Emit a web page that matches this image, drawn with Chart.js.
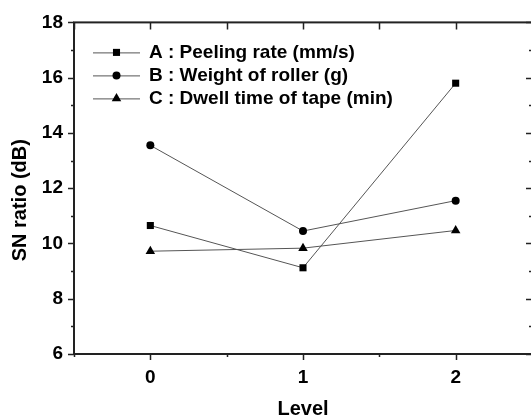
<!DOCTYPE html>
<html>
<head>
<meta charset="utf-8">
<script src="https://cdn.jsdelivr.net/npm/chart.js@4.4.1/dist/chart.umd.min.js"></script>
<style>
    html, body { margin: 0; padding: 0; background: #fff; overflow: hidden; }
    #wrap { width: 540px; height: 420px; }
</style>
</head>
<body>
<div id="wrap"><canvas id="chart" width="540" height="420" style="width:540px;height:420px"></canvas></div>
<script>
// values
const levels = [0, 1, 2];
const peelingRate = [10.65, 9.12, 15.8];
const rollerWeight = [13.55, 10.45, 11.55];
const dwellTime = [9.72, 9.83, 10.47];
const seriesNames = ['A : Peeling rate (mm/s)', 'B : Weight of roller (g)', 'C : Dwell time of tape (min)'];
const xTicks = [0, 1, 2];
const yTicks = [6, 8, 10, 12, 14, 16, 18];
const xTitle = 'Level';
const yTitle = 'SN ratio (dB)';

const fontFamily = '"Liberation Sans", Arial, Helvetica, sans-serif';

function toPoints(values) {
    return levels.map((lv, i) => ({ x: lv, y: values[i] }));
}

function makeDataset(label, values, style, radius) {
    return {
        label: label,
        data: toPoints(values),
        borderColor: '#555',
        borderWidth: 1,
        pointStyle: style,
        pointRadius: radius,
        pointBackgroundColor: '#000',
        pointBorderColor: '#000',
        pointBorderWidth: 0,
        tension: 0,
        clip: false
    };
}

// minor ticks sit half way between the labelled ones
function withMinor(ticks) {
    let out = [];
    let step = ticks[1] - ticks[0];
    out.push(ticks[0] - step / 2);
    ticks.forEach((t, i) => {
        out.push(t);
        out.push(t + step / 2);
    });
    return out;
}

// box round the plot, ticks on all four sides (like Origin draws it)
const framePlugin = {
    id: 'frame',
    afterDraw(chart) {
        const ctx = chart.ctx;
        const a = chart.chartArea;
        const xs = chart.scales.x;
        const ys = chart.scales.y;
        ctx.save();
        ctx.strokeStyle = '#222';
        ctx.lineWidth = 1.5;

        ctx.beginPath();
        withMinor(xTicks).forEach((v) => {
            if (v < xs.min || v > xs.max) return;
            let px = Math.round(xs.getPixelForValue(v)) + 0.5;
            let major = xTicks.includes(v);
            // bottom, outward
            ctx.moveTo(px, a.bottom);
            ctx.lineTo(px, a.bottom + (major ? 6 : 3));
            // top, inward
            ctx.moveTo(px, a.top);
            ctx.lineTo(px, a.top + 7);
        });
        for (let v = ys.min; v <= ys.max; v += 1) {
            let py = Math.round(ys.getPixelForValue(v)) + 0.5;
            let major = yTicks.includes(v);
            ctx.moveTo(a.left, py);
            ctx.lineTo(a.left - (major ? 6 : 3), py);
            ctx.moveTo(a.right, py);
            ctx.lineTo(a.right - (major ? 6 : 3), py);
        }
        ctx.stroke();

        ctx.lineWidth = 2;
        ctx.strokeRect(a.left, a.top, a.right - a.left, a.bottom - a.top);

        // y axis title, a bit below the middle as in the original
        ctx.fillStyle = '#000';
        ctx.font = 'bold 20px ' + fontFamily;
        ctx.textAlign = 'center';
        ctx.textBaseline = 'middle';
        ctx.translate(20, (a.top + a.bottom) / 2 + 12);
        ctx.rotate(-Math.PI / 2);
        ctx.fillText(yTitle, 0, 0);
        ctx.restore();
    }
};

// legend with a short line through the marker, inside the plot
const lineLegendPlugin = {
    id: 'lineLegend',
    afterDatasetsDraw(chart) {
        const ctx = chart.ctx;
        const a = chart.chartArea;
        let lineStart = a.left + 19;
        let lineEnd = a.left + 66;
        let textX = a.left + 75;
        let rowY = a.top + 30;
        ctx.save();
        ctx.font = 'bold 19px ' + fontFamily;
        ctx.textBaseline = 'middle';
        ctx.textAlign = 'left';
        chart.data.datasets.forEach((ds) => {
            ctx.strokeStyle = ds.borderColor;
            ctx.lineWidth = 1;
            ctx.beginPath();
            ctx.moveTo(lineStart, rowY + 0.5);
            ctx.lineTo(lineEnd, rowY + 0.5);
            ctx.stroke();
            ctx.fillStyle = '#000';
            Chart.helpers.drawPoint(ctx, {
                pointStyle: ds.pointStyle,
                radius: ds.pointRadius,
                rotation: 0,
                borderWidth: 0
            }, (lineStart + lineEnd) / 2, rowY);
            ctx.fillStyle = '#000';
            ctx.fillText(ds.label, textX, rowY);
            rowY += 23;
        });
        ctx.restore();
    }
};

let chartData = {
    datasets: [
        makeDataset(seriesNames[0], peelingRate, 'rect', 5),
        makeDataset(seriesNames[1], rollerWeight, 'circle', 4),
        makeDataset(seriesNames[2], dwellTime, 'triangle', 5.5)
    ]
};

let config = {
    type: 'line',
    data: chartData,
    options: {
        responsive: false,
        animation: false,
        layout: {
            padding: { top: 16, right: 8, left: 0, bottom: 0 }
        },
        plugins: {
            legend: { display: false },
            tooltip: { enabled: false }
        },
        scales: {
            x: {
                type: 'linear',
                min: -0.5,
                max: 2.5,
                grid: { display: false, drawTicks: false },
                border: { display: false },
                afterBuildTicks: (scale) => {
                    scale.ticks = xTicks.map((v) => ({ value: v }));
                },
                afterFit: (scale) => {
                    scale.height = 66;
                },
                ticks: {
                    padding: 12,
                    color: '#000',
                    autoSkip: false,
                    maxRotation: 0,
                    font: { family: fontFamily, size: 19, weight: 'bold' }
                },
                title: {
                    display: true,
                    text: xTitle,
                    color: '#000',
                    padding: 0,
                    font: { family: fontFamily, size: 20, weight: 'bold', lineHeight: 1.1 }
                }
            },
            y: {
                type: 'linear',
                min: 6,
                max: 18,
                grid: { display: false, drawTicks: false },
                border: { display: false },
                afterBuildTicks: (scale) => {
                    scale.ticks = yTicks.map((v) => ({ value: v }));
                },
                afterFit: (scale) => {
                    scale.width = 74;
                },
                ticks: {
                    padding: 11,
                    color: '#000',
                    autoSkip: false,
                    font: { family: fontFamily, size: 19, weight: 'bold' }
                },
                title: { display: false }
            }
        }
    },
    plugins: [framePlugin, lineLegendPlugin]
};

const chart1 = new Chart(document.getElementById('chart'), config);
</script>
</body>
</html>
